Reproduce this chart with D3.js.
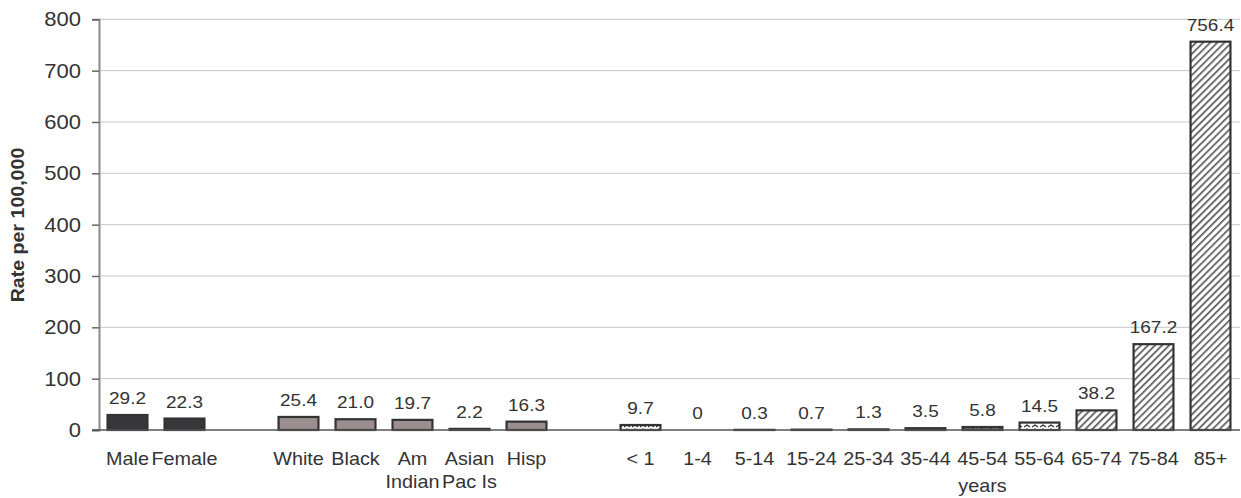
<!DOCTYPE html>
<html><head><meta charset="utf-8">
<script src="https://cdn.jsdelivr.net/npm/d3@7"></script>
<style>
html,body{margin:0;padding:0;background:#fff;}
svg{display:block;font-family:"Liberation Sans",Arial,sans-serif;}
</style></head>
<body><svg id="c" width="1241" height="498"></svg>
<script>
const categories = ["Male","Female","White","Black","Am\nIndian","Asian\nPac Is","Hisp","< 1","1-4","5-14","15-24","25-34","35-44","45-54","55-64","65-74","75-84","85+"];
const groups = ["sex","sex","race","race","race","race","race","age","age","age","age","age","age","age","age","age","age","age"];
const values = [29.2,22.3,25.4,21.0,19.7,2.2,16.3,9.7,0,0.3,0.7,1.3,3.5,5.8,14.5,38.2,167.2,756.4];
const valueLabels = ["29.2","22.3","25.4","21.0","19.7","2.2","16.3","9.7","0","0.3","0.7","1.3","3.5","5.8","14.5","38.2","167.2","756.4"];
const yTicks = [0,100,200,300,400,500,600,700,800];
const yTitle = "Rate per 100,000";
const ageNote = "years";

// slot positions with a blank slot between groups
let slots = [], s = 0;
groups.forEach((g,i)=>{ if(i>0 && g!==groups[i-1]) s++; slots.push(s); s++; });
const nSlots = s;

const svg = d3.select("#c");
const x = d3.scaleBand().domain(d3.range(nSlots)).range([99,1239]).paddingInner(0.3).paddingOuter(0.15);
const y = d3.scaleLinear().domain([0,800]).range([430,19.3]);

const defs = svg.append("defs");
const hatch = defs.append("pattern").attr("id","hatch").attr("patternUnits","userSpaceOnUse")
  .attr("width",5).attr("height",5).attr("patternTransform","rotate(45)");
hatch.append("rect").attr("width",5).attr("height",5).attr("fill","#fff");
hatch.append("rect").attr("width",1.7).attr("height",5).attr("fill","#5a5a5a");
const zig = defs.append("pattern").attr("id","zig").attr("patternUnits","userSpaceOnUse")
  .attr("width",8).attr("height",4);
zig.append("rect").attr("width",8).attr("height",4).attr("fill","#fff");
zig.append("path").attr("d","M0,3 L3,1 L6,3").attr("stroke","#333").attr("stroke-width",1.4).attr("fill","none");
const brick = defs.append("pattern").attr("id","brick").attr("patternUnits","userSpaceOnUse")
  .attr("width",9).attr("height",6);
brick.append("rect").attr("width",9).attr("height",6).attr("fill","#777");
brick.append("rect").attr("width",1.5).attr("height",6).attr("fill","#333");

function fillFor(i){
  const g = groups[i], c = categories[i];
  if(g==="sex") return "#38373c";
  if(g==="race") return "#9b8e8e";
  if(c==="< 1" || c==="55-64") return "url(#zig)";
  if(c==="45-54") return "url(#brick)";
  if(["5-14","15-24","25-34","35-44"].includes(c)) return "#444";
  return "url(#hatch)";
}

// gridlines
svg.append("g").selectAll("line").data(yTicks.filter(d=>d>0)).join("line")
  .attr("x1",99).attr("x2",1240).attr("y1",d=>y(d)).attr("y2",d=>y(d))
  .attr("stroke","#c9c5c5").attr("stroke-width",1);

// y axis
const ya = svg.append("g").attr("transform","translate(99,0)")
  .call(d3.axisLeft(y).tickValues(yTicks).tickSize(7).tickPadding(11));
ya.select(".domain").attr("stroke","#8a8a8a").attr("stroke-width",2);
ya.selectAll(".tick line").attr("stroke","#666").attr("stroke-width",1.5);
ya.selectAll(".tick text").attr("font-size",20).attr("fill","#333")
  .attr("font-family","'Liberation Sans',Arial,sans-serif")
  .attr("transform","scale(1.1,1)")
  .each(function(){ d3.select(this).attr("x",(-18)/1.1); });

// bars
svg.append("g").selectAll("rect").data(values).join("rect")
  .attr("x",(d,i)=>x(slots[i])).attr("width",x.bandwidth())
  .attr("y",d=>y(d)).attr("height",d=>y(0)-y(d))
  .attr("fill",(d,i)=>fillFor(i))
  .attr("stroke",(d,i)=> d>0 ? "#333" : "none").attr("stroke-width",2.2);

// baseline
svg.append("line").attr("x1",92).attr("x2",1240).attr("y1",y(0)).attr("y2",y(0))
  .attr("stroke","#555").attr("stroke-width",1.5);

// value labels
svg.append("g").selectAll("text").data(valueLabels).join("text")
  .attr("transform",(d,i)=>`translate(${x(slots[i])+x.bandwidth()/2},${y(values[i])-11}) scale(1.15,1)`)
  .attr("text-anchor","middle").attr("font-size",16.5).attr("fill","#333").text(d=>d);

// category labels
const cl = svg.append("g").selectAll("text").data(categories).join("text")
  .attr("transform",(d,i)=>`translate(${x(slots[i])+x.bandwidth()/2},465) scale(1.1,1)`)
  .attr("text-anchor","middle").attr("font-size",18).attr("fill","#333");
cl.each(function(d){
  const t = d3.select(this);
  d.split("\n").forEach((line,k)=>{
    t.append("tspan").attr("x",0).attr("dy",k===0?0:23).text(line);
  });
});

// "years" note under 45-54
const mid = categories.indexOf("45-54");
svg.append("text")
  .attr("transform",`translate(${x(slots[mid])+x.bandwidth()/2},492) scale(1.1,1)`)
  .attr("text-anchor","middle").attr("font-size",18).attr("fill","#333").text(ageNote);

// y title
svg.append("text")
  .attr("transform","translate(24,225) rotate(-90) scale(1.12,1)")
  .attr("text-anchor","middle").attr("font-size",17.5).attr("font-weight","bold").attr("fill","#333")
  .text(yTitle);
</script></body></html>
